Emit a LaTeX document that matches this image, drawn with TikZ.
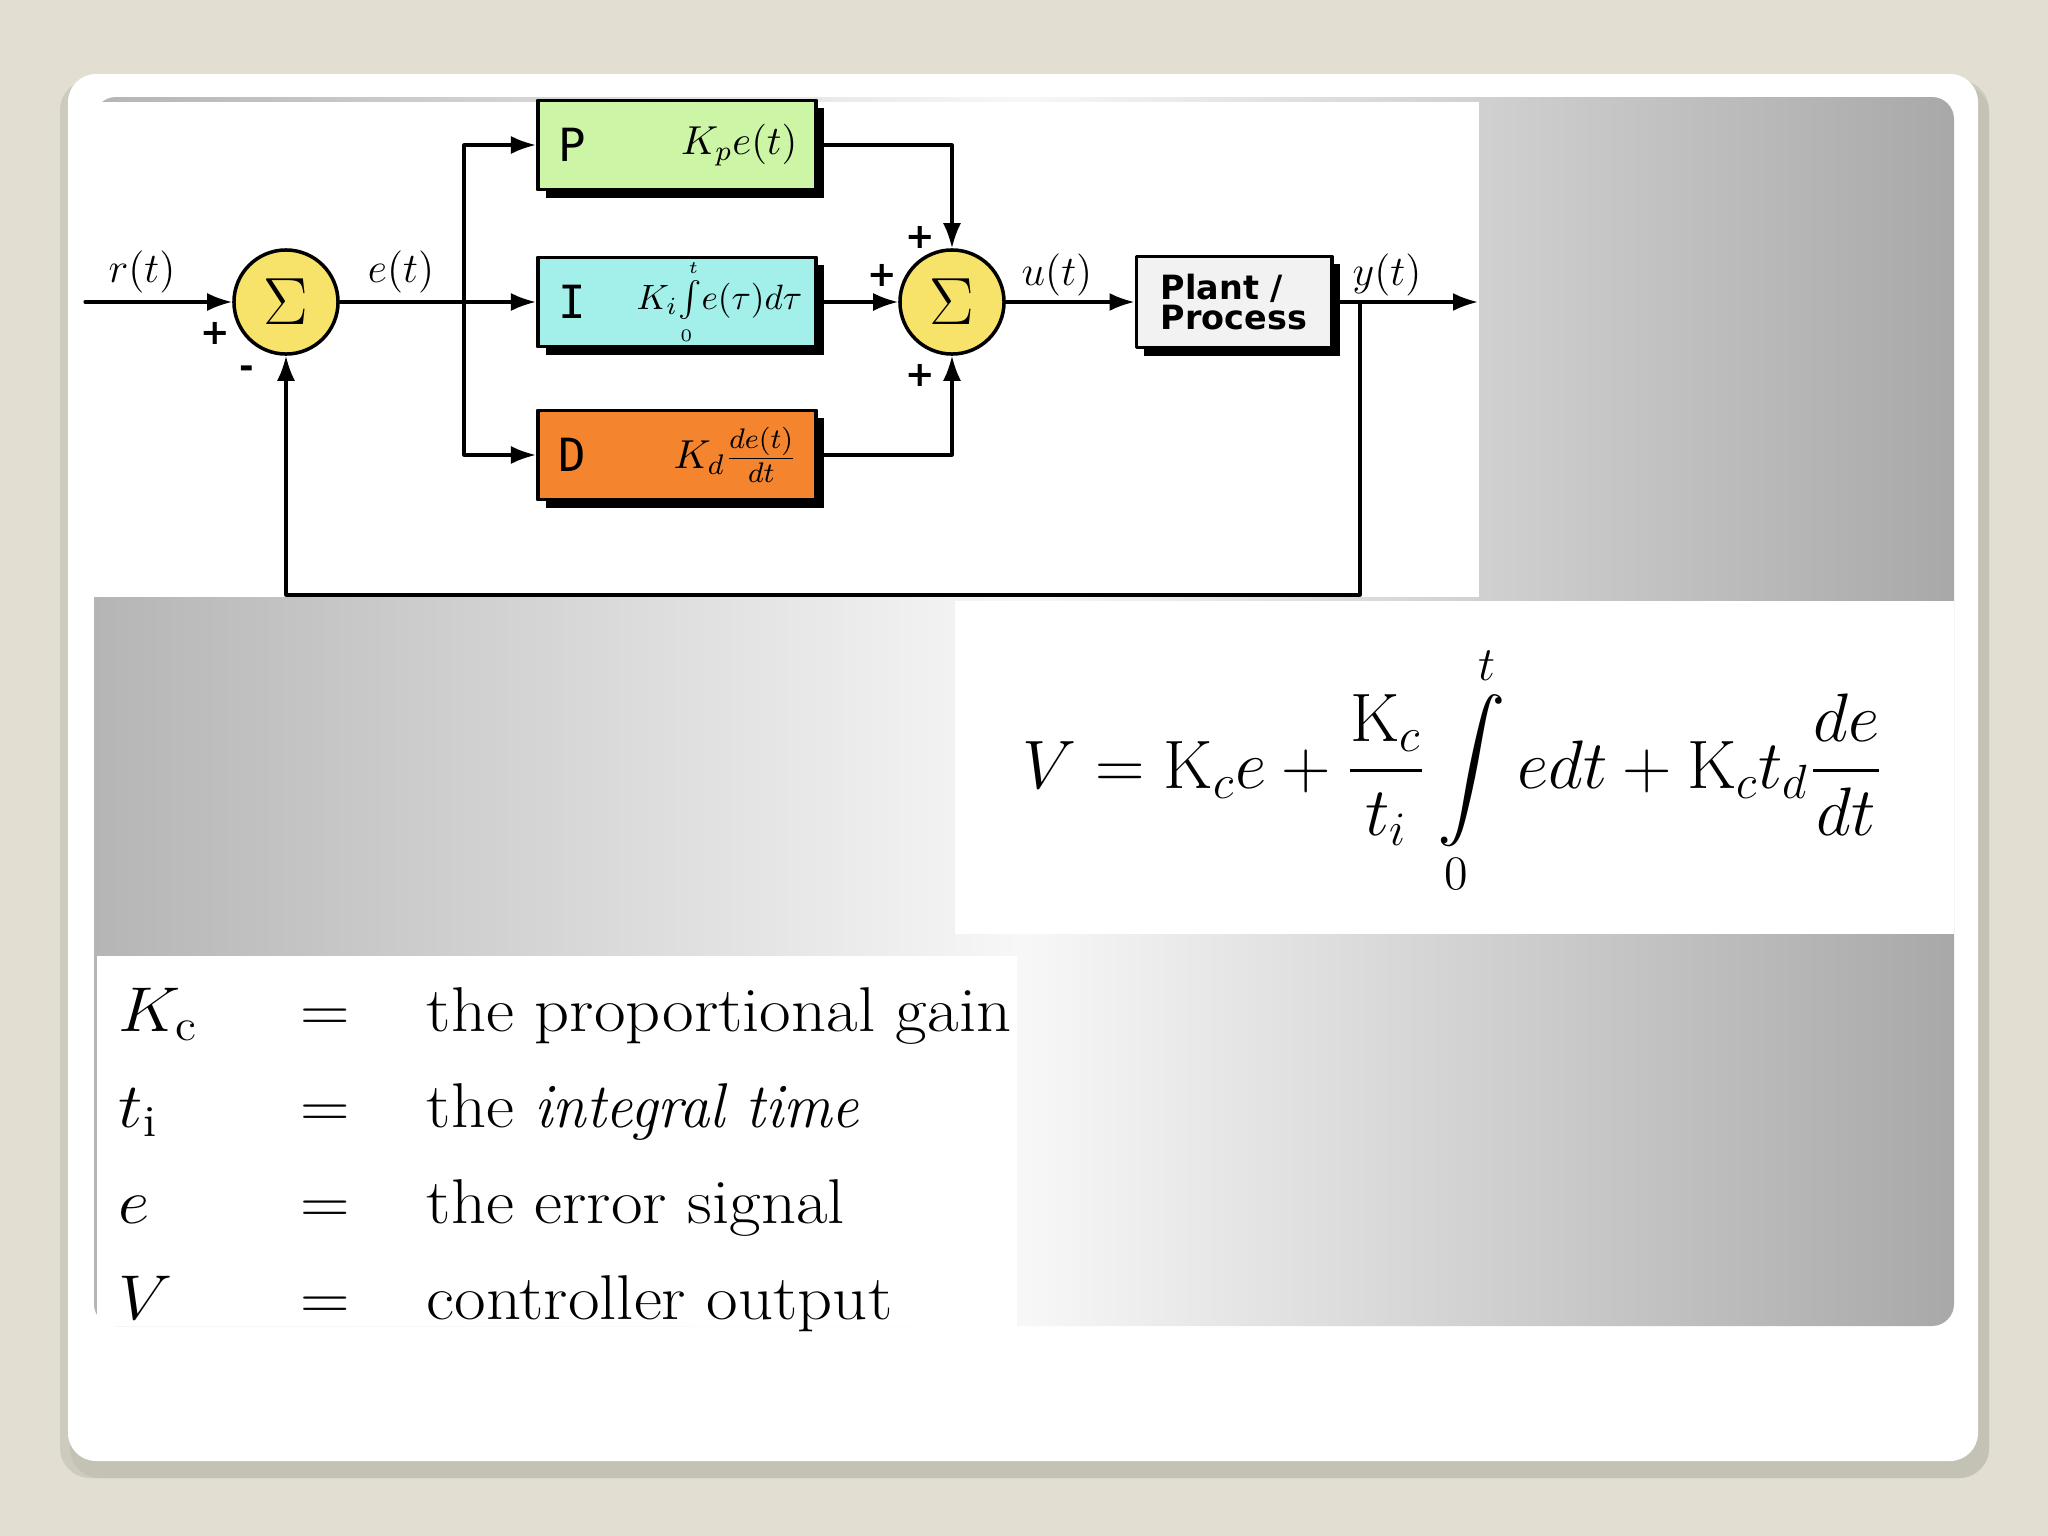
\documentclass[tikz,border=0pt]{standalone}
\usepackage{fix-cm}
\usepackage{amsmath,amssymb}
\usepackage{graphicx}
\usepackage{fontspec}
\newfontfamily\blockfont{DejaVu Sans}
\newfontfamily\letterfont{DejaVu Sans Mono}
\usepackage{tikz}
\usetikzlibrary{arrows.meta,positioning,shadows}
\definecolor{slidebg}{HTML}{E2DED2}
\definecolor{cardshade}{HTML}{C4C2B5}
\definecolor{pgreen}{HTML}{CCF5A6}
\definecolor{icyan}{HTML}{A3F0EA}
\definecolor{dorange}{HTML}{F5842F}
\definecolor{sumyellow}{HTML}{F8E36A}
\definecolor{plantgray}{HTML}{F2F2F2}
\tikzset{
  every picture/.style={line join=round, line cap=round, >={Latex[length=0.25cm,width=0.18cm]}},
  wire/.style={line width=0.9pt},
  blk/.style={draw, line width=1.1pt, minimum width=2.78cm, minimum height=0.89cm,
    drop shadow={shadow xshift=0.08cm, shadow yshift=-0.08cm, fill=black, opacity=1}},
  summer/.style={circle, draw, line width=1pt, fill=sumyellow, minimum size=1.04cm, inner sep=0pt,
    font=\fontsize{19}{20}\selectfont},
  sig/.style={font=\fontsize{12}{14}\selectfont, inner sep=0pt},
  sgn/.style={font=\blockfont\bfseries\fontsize{10}{12}\selectfont, inner sep=0pt},
  letter/.style={font=\letterfont\fontsize{13}{14}\selectfont, inner sep=0pt},
  gain/.style={font=\fontsize{11.5}{13}\selectfont, inner sep=0pt},
  tabtext/.style={font=\fontsize{18}{20}\selectfont, inner sep=0pt, xscale=1.085},
}

\begin{document}
\begin{tikzpicture}[x=0.01cm,y=-0.01cm]
\useasboundingbox (0,0) rectangle (2048,1536);
% slide, card and panels
\fill[slidebg] (0,0) rectangle (2048,1536);
\fill[cardshade!70!slidebg,rounded corners=0.3cm] (60,80) rectangle (1989,1478);
\fill[cardshade,rounded corners=0.3cm] (70,84) rectangle (1989,1478);
\fill[white,rounded corners=0.28cm] (68,74) rectangle (1978,1461);
\shade[rounded corners=0.22cm,left color=gray!58,right color=gray!68,middle color=gray!6] (94,97) rectangle (1954,1326);
\fill[white] (94,102) rectangle (1479,597);
\fill[white] (955,601) rectangle (1954,934);
\fill[white] (97,956) rectangle (1017,1326);
% block diagram
\node[summer] (errsum) at (286,302) {$\Sigma$};
\node[summer] (outsum) at (952,302) {$\Sigma$};
\node[blk,fill=pgreen] (pblk) at (677,145) {};
\node[blk,fill=icyan] (iblk) at (677,302) {};
\node[blk,fill=dorange] (dblk) at (677,455) {};
\node[blk,fill=plantgray,minimum width=1.95cm,minimum height=0.91cm,align=left,
  font=\blockfont\bfseries\fontsize{9.5}{8.5}\selectfont] (plant) at (1234,302) {Plant /\\Process};
\node[letter,right=0.22cm of pblk.west] (plet) {P};
\node[gain,left=0.2cm of pblk.east] (pgain) {$K_p e(t)$};
\node[letter,right=0.22cm of iblk.west] (ilet) {I};
\node[gain,left=0.15cm of iblk.east,font=\fontsize{10}{12}\selectfont] (igain)
  {$K_i\!\int\limits_{\scriptscriptstyle 0}^{\scriptscriptstyle t}\! e(\tau)d\tau$};
\node[letter,right=0.22cm of dblk.west] (dlet) {D};
\node[gain,left=0.2cm of dblk.east] (dgain) {$K_d\frac{de(t)}{dt}$};
\coordinate (rin) at (85,302);
\coordinate (split) at (464,302);
\coordinate (ytap) at (1360,302);
\coordinate (yout) at (1478,302);
\coordinate (fbk) at (1360,595);
\draw[wire,->] (rin) -- (errsum);
\draw[wire,->] (errsum) -- (iblk);
\draw[wire,->] (split) |- (pblk);
\draw[wire,->] (split) |- (dblk);
\draw[wire,->] (pblk) -| (outsum);
\draw[wire,->] (iblk) -- (outsum);
\draw[wire,->] (dblk) -| (outsum);
\draw[wire,->] (outsum) -- (plant);
\draw[wire,->] (plant) -- (yout);
\draw[wire,->] (ytap) -- (fbk) -| (errsum);
\node[sig] (rlab) at (142,272) {$r(t)$};
\node[sig] (elab) at (401,272) {$e(t)$};
\node[sig] (ulab) at (1057,275) {$u(t)$};
\node[sig] (ylab) at (1387,275) {$y(t)$};
\node[sgn] (rplus) at (215,333) {+};
\node[sgn] (fminus) at (247,372) {-};
\node[sgn] (pplus) at (920,237) {+};
\node[sgn] (iplus) at (882,275) {+};
\node[sgn] (dplus) at (920,375) {+};
% control law
\node[font=\fontsize{19.5}{24}\selectfont,anchor=base,inner sep=0pt] (pidlaw) at (1453,788)
  {$\displaystyle V = \mathrm{K}_c e+\frac{\mathrm{K}_c}{t_i}\int\limits_0^t edt+\mathrm{K}_c t_d\frac{de}{dt}$};
% symbol table
\foreach \sym/\txt [count=\r] in {{$K_{\mathrm{c}}$}/{the proportional gain},{$t_{\mathrm{i}}$}/{the \scalebox{0.88}[1]{\textit{integral time}}},{$e$}/{the error signal},{$V$}/{controller output}}{
  \pgfmathsetmacro\yy{1031+96.3*(\r-1)}
  \node[tabtext,anchor=base west] (sym\r) at (118,\yy) {\sym};
  \node[tabtext,anchor=base] (eq\r) at (325,\yy) {$=$};
  \node[tabtext,anchor=base west] (def\r) at (426,\yy) {\txt};
}
\end{tikzpicture}
\end{document}
